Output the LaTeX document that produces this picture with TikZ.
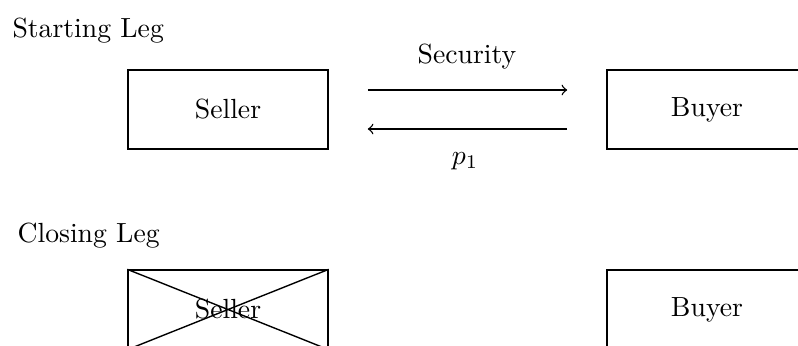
\documentclass[tikz,border=0pt]{standalone}
\usetikzlibrary{calc}
\begin{document}
\begin{tikzpicture}[x=0.361pt,y=-0.361pt,
  party/.style={draw, line width=0.5pt, rectangle, inner sep=0pt,
                minimum width=72.2pt, minimum height=28.5pt},
  flow/.style={->, line width=0.5pt},
  heading/.style={anchor=base west, inner sep=0pt},
  flowlabel/.style={anchor=base, inner sep=0pt}]
  \useasboundingbox (0,0) rectangle (798,345);
  \clip (0,0) rectangle (798,345);

  % Starting leg
  \node[heading] (startlbl) at (12,37) {Starting Leg};
  \node[party] (sellerA) at (228,109.5) {Seller};
  \node[party] (buyerA) at (707,109.5) {Buyer};
  \draw[flow] ([xshift=14.1pt,yshift=7.04pt]sellerA.east) -- ([xshift=-14.1pt,yshift=7.04pt]buyerA.west);
  \draw[flow] ([xshift=-14.1pt,yshift=-7.04pt]buyerA.west) -- ([xshift=14.1pt,yshift=-7.04pt]sellerA.east);
  \node[flowlabel] (seclbl) at (467,63) {Security};
  \node[flowlabel] (paylbl) at (465,164) {$p_1$};

  % Closing leg
  \node[heading] (closelbl) at (17,242) {Closing Leg};
  \node[party] (sellerB) at (228,309.5) {Seller};
  \node[party] (buyerB) at (707,309.5) {Buyer};
  \draw[line width=0.5pt] (sellerB.north west) -- (sellerB.south east)
                          (sellerB.north east) -- (sellerB.south west);
\end{tikzpicture}
\end{document}
